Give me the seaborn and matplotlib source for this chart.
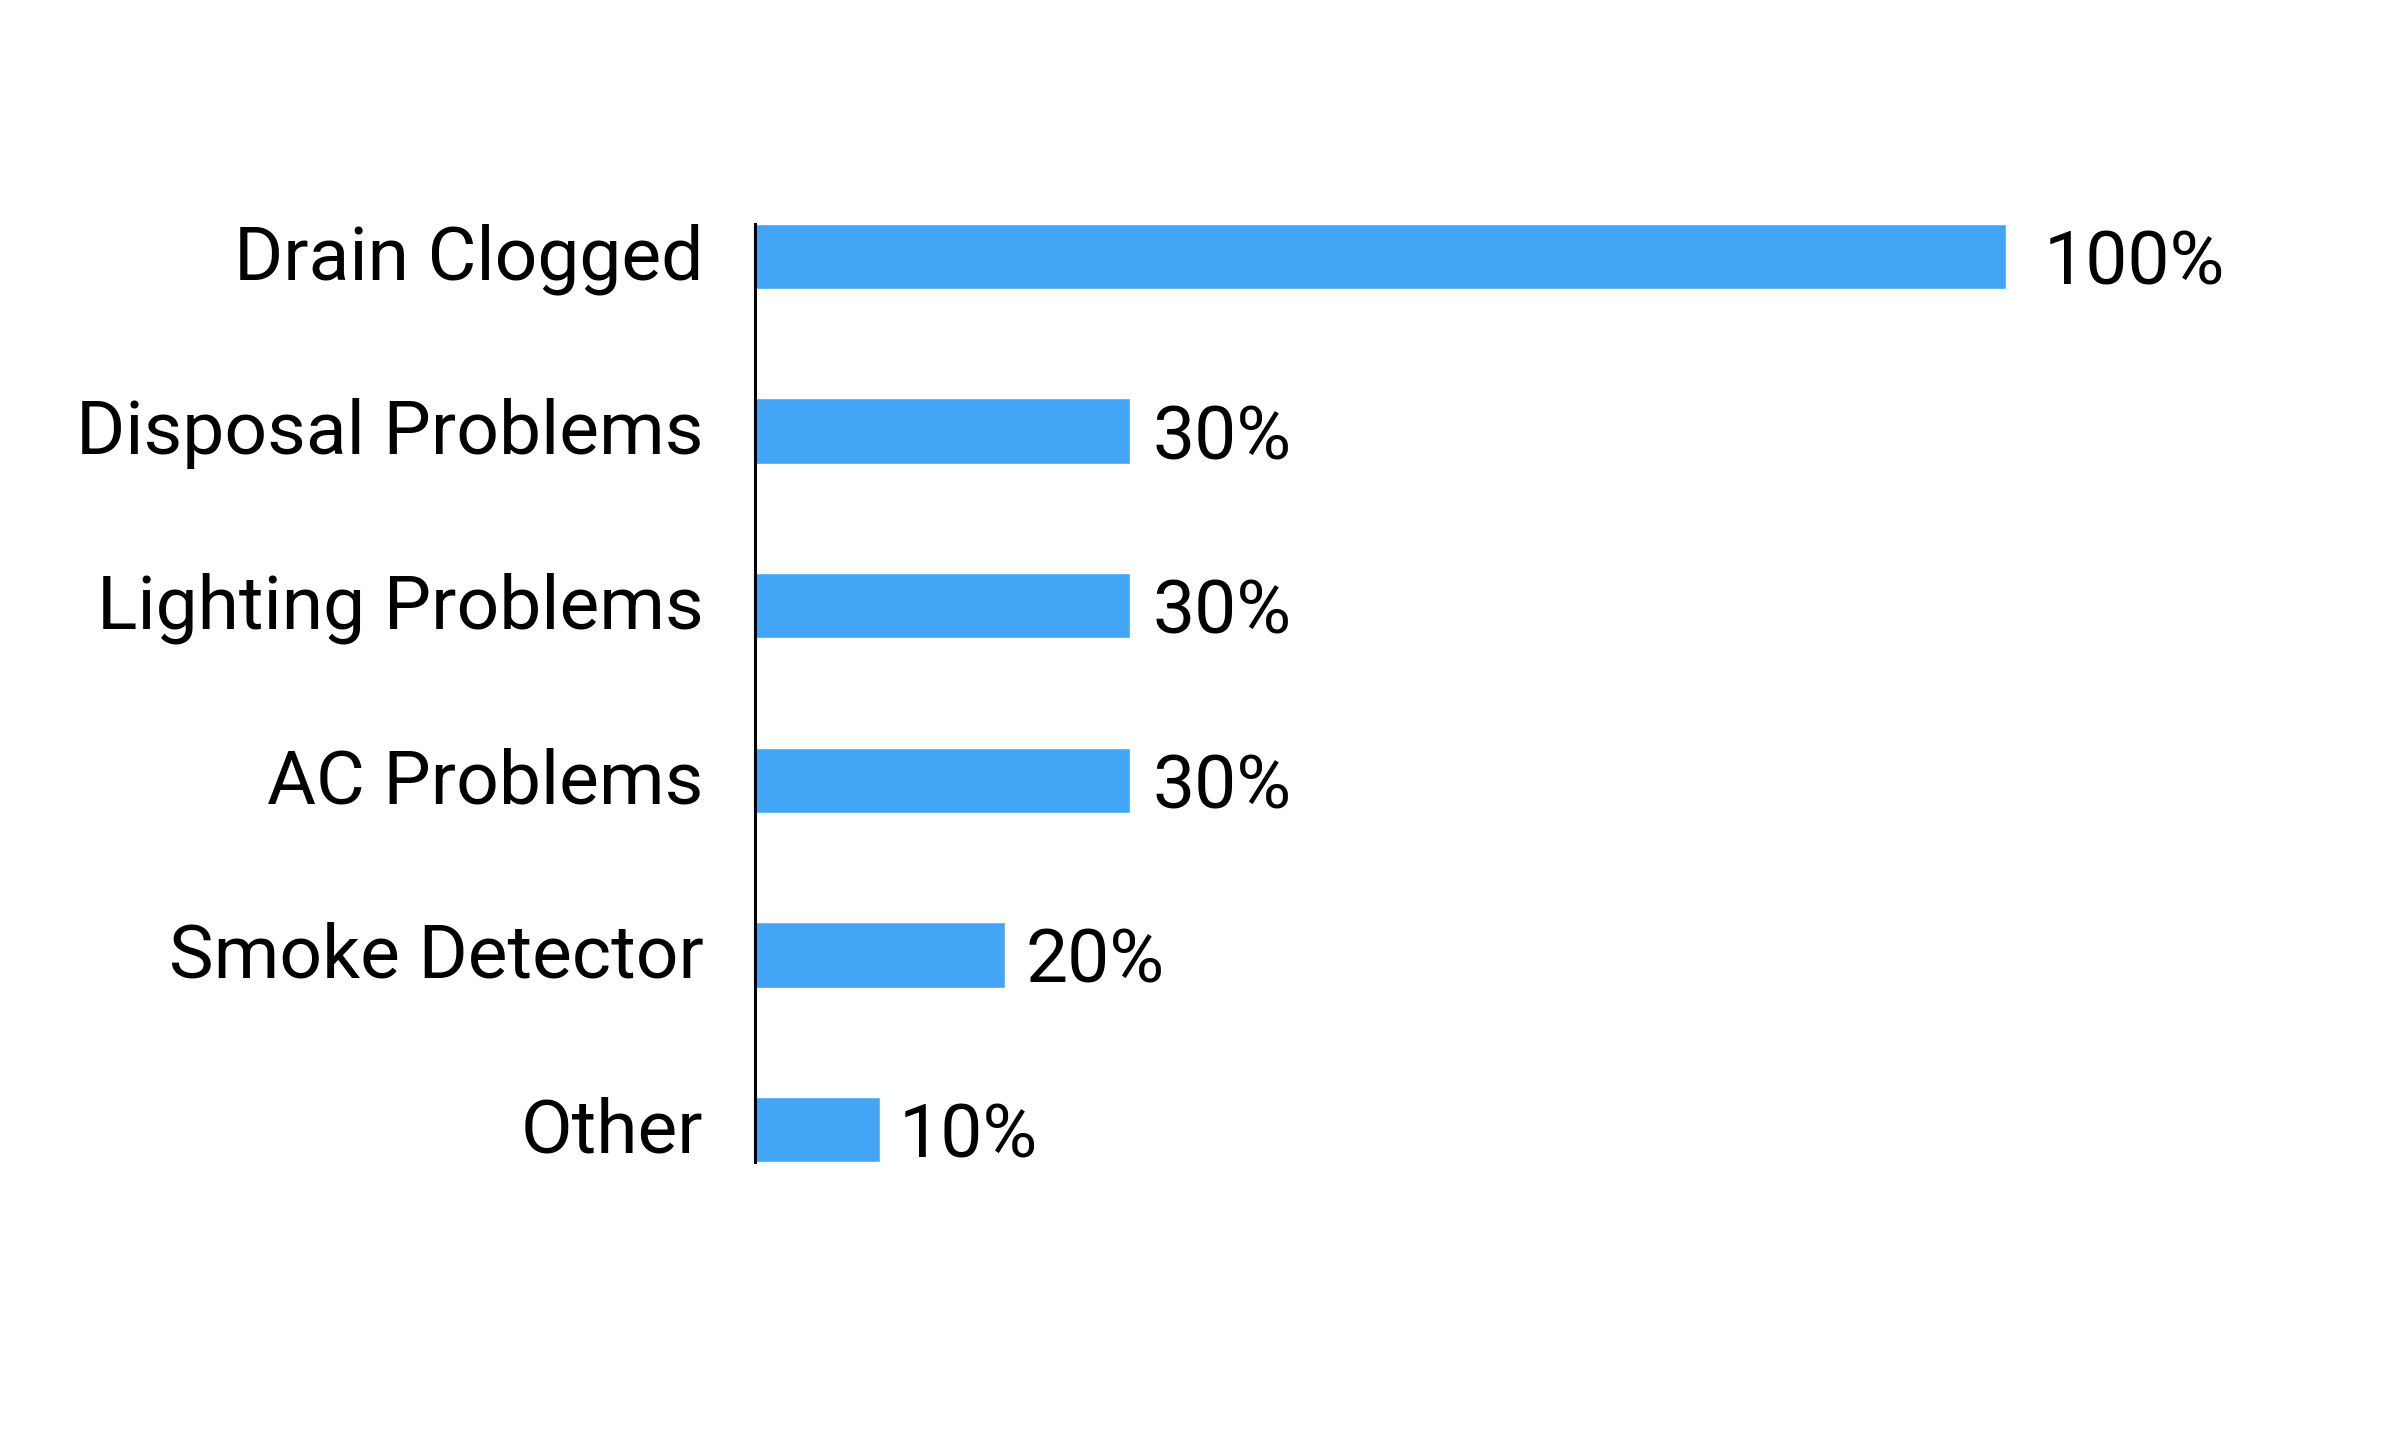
import numpy as np
import pandas as pd
import seaborn as sns
import matplotlib.pyplot as plt
import matplotlib.transforms as mtransforms

categories = ['Drain Clogged', 'Disposal Problems', 'Lighting Problems',
              'AC Problems', 'Smoke Detector', 'Other']
percent = [100, 30, 30, 30, 20, 10]
labels = ['100%', '30%', '30%', '30%', '20%', '10%']

df = pd.DataFrame({'Category': categories, 'Percent': percent})

sns.set_style('white')
plt.rcParams['font.family'] = ['Roboto', 'DejaVu Sans']

fig = plt.figure(figsize=(23.88, 14.32), dpi=100)
ax = fig.add_axes([0.3162, 0.1885, 0.8400 - 0.3162, 0.8436 - 0.1885])

sns.barplot(data=df, x='Percent', y='Category', color='#42A5F5',
            width=0.375, saturation=1, ax=ax)

ax.set_xlim(0, 100)
ax.set_ylim(5.1875, -0.1875)
ax.set_xlabel('')
ax.set_ylabel('')
ax.set_xticks([])
ax.tick_params(axis='y', length=0, pad=37, labelsize=54, labelcolor='black')

# nudge the category labels up a little
shift = mtransforms.ScaledTranslation(0, 3.5 / 72, fig.dpi_scale_trans)
for t in ax.get_yticklabels():
    t.set_transform(t.get_transform() + shift)

for s in ['top', 'right', 'bottom']:
    ax.spines[s].set_visible(False)
ax.spines['left'].set_linewidth(2.2)
ax.spines['left'].set_color('black')

for i, (v, lab) in enumerate(zip(percent, labels)):
    ax.text(v * 1.017 + 1.3, i, lab, ha='left', va='center_baseline',
            fontsize=54, color='black', clip_on=False)

fig.savefig('out.png', dpi=100, facecolor='white')
